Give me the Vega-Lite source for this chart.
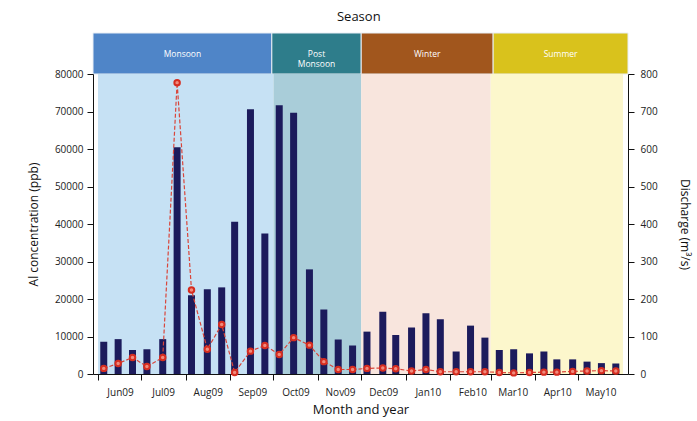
{
  "$schema": "https://vega.github.io/schema/vega-lite/v6.json",
  "padding": {"left": 27, "top": 10, "right": 2, "bottom": 2},
  "title": {"text": "Season", "fontSize": 13, "font": "Open Sans", "fontWeight": "normal", "offset": 9, "anchor": "middle", "frame": "bounds", "color": "#111"},
  "config": {
    "view": {"stroke": null},
    "font": "Open Sans",
    "axis": {"labelFont": "Open Sans", "titleFont": "Open Sans", "titleFontWeight": "normal", "grid": false, "domainColor": "#111", "tickColor": "#111", "labelColor": "#222", "titleColor": "#111"}
  },
  "datasets": {
    "seasons": [
      {"season": "Monsoon", "label": "Monsoon", "start": "2009-06-01T00:00:00", "end": "2009-10-01T00:00:00"},
      {"season": "Post Monsoon", "label": "Post\nMonsoon", "start": "2009-10-01T00:00:00", "end": "2009-12-01T00:00:00"},
      {"season": "Winter", "label": "Winter", "start": "2009-12-01T00:00:00", "end": "2010-03-01T00:00:00"},
      {"season": "Summer", "label": "Summer", "start": "2010-03-01T00:00:00", "end": "2010-06-01T00:00:00"}
    ],
    "samples": [
      {"date": "2009-06-05T00:00:00", "al": 8600, "discharge": 15},
      {"date": "2009-06-15T00:00:00", "al": 9300, "discharge": 28},
      {"date": "2009-06-25T00:00:00", "al": 6400, "discharge": 44},
      {"date": "2009-07-05T00:00:00", "al": 6600, "discharge": 20},
      {"date": "2009-07-16T00:00:00", "al": 9300, "discharge": 44},
      {"date": "2009-07-26T00:00:00", "al": 60500, "discharge": 777},
      {"date": "2009-08-05T00:00:00", "al": 21000, "discharge": 224},
      {"date": "2009-08-16T00:00:00", "al": 22600, "discharge": 66},
      {"date": "2009-08-26T00:00:00", "al": 23100, "discharge": 132},
      {"date": "2009-09-04T00:00:00", "al": 40600, "discharge": 4},
      {"date": "2009-09-15T00:00:00", "al": 70600, "discharge": 61},
      {"date": "2009-09-25T00:00:00", "al": 37500, "discharge": 76},
      {"date": "2009-10-05T00:00:00", "al": 71700, "discharge": 52},
      {"date": "2009-10-15T00:00:00", "al": 69700, "discharge": 97},
      {"date": "2009-10-26T00:00:00", "al": 27900, "discharge": 77},
      {"date": "2009-11-05T00:00:00", "al": 17200, "discharge": 33},
      {"date": "2009-11-15T00:00:00", "al": 9200, "discharge": 12},
      {"date": "2009-11-25T00:00:00", "al": 7600, "discharge": 12},
      {"date": "2009-12-05T00:00:00", "al": 11300, "discharge": 15},
      {"date": "2009-12-16T00:00:00", "al": 16600, "discharge": 16},
      {"date": "2009-12-25T00:00:00", "al": 10400, "discharge": 14},
      {"date": "2010-01-05T00:00:00", "al": 12400, "discharge": 8},
      {"date": "2010-01-15T00:00:00", "al": 16200, "discharge": 12},
      {"date": "2010-01-25T00:00:00", "al": 14600, "discharge": 6},
      {"date": "2010-02-05T00:00:00", "al": 6000, "discharge": 6},
      {"date": "2010-02-15T00:00:00", "al": 12900, "discharge": 6},
      {"date": "2010-02-25T00:00:00", "al": 9700, "discharge": 6},
      {"date": "2010-03-07T00:00:00", "al": 6400, "discharge": 4},
      {"date": "2010-03-17T00:00:00", "al": 6600, "discharge": 3},
      {"date": "2010-03-28T00:00:00", "al": 5500, "discharge": 4},
      {"date": "2010-04-07T00:00:00", "al": 6000, "discharge": 5},
      {"date": "2010-04-16T00:00:00", "al": 3900, "discharge": 5},
      {"date": "2010-04-27T00:00:00", "al": 3900, "discharge": 7},
      {"date": "2010-05-07T00:00:00", "al": 3300, "discharge": 8},
      {"date": "2010-05-17T00:00:00", "al": 2900, "discharge": 9},
      {"date": "2010-05-27T00:00:00", "al": 2800, "discharge": 8}
    ]
  },
  "spacing": 0,
  "bounds": "flush",
  "resolve": {"scale": {"color": "independent", "x": "independent"}},
  "vconcat": [
    {
      "width": 535,
      "height": 41,
      "data": {"name": "seasons"},
      "transform": [{"calculate": "(time(datum.start) + time(datum.end)) / 2", "as": "mid"}],
      "layer": [
        {
          "mark": {"type": "rect", "stroke": "#e8eef5", "strokeWidth": 1},
          "encoding": {
            "x": {"field": "start", "type": "temporal", "axis": null, "scale": {"domain": [{"year": 2009, "month": 6, "date": 1}, {"year": 2010, "month": 6, "date": 1}]}},
            "x2": {"field": "end"},
            "color": {"field": "season", "type": "nominal", "legend": null, "scale": {"domain": ["Monsoon", "Post Monsoon", "Winter", "Summer"], "range": ["#4f85c8", "#2e7d8b", "#a1561d", "#d9c21c"]}}
          }
        },
        {
          "mark": {"type": "text", "color": "white", "fontSize": 8.5, "lineBreak": "\n", "lineHeight": 10, "font": "Open Sans"},
          "encoding": {
            "x": {"field": "mid", "type": "temporal"},
            "text": {"field": "label"}
          }
        }
      ]
    },
    {
      "width": 535,
      "height": 300,
      "layer": [
        {
          "data": {"name": "seasons"},
          "mark": {"type": "rect"},
          "encoding": {
            "x": {"field": "start", "type": "temporal", "title": "Month and year",
              "scale": {"domain": [{"year": 2009, "month": 6, "date": 1}, {"year": 2010, "month": 6, "date": 1}]},
              "axis": {"format": "%b%y", "labelOffset": 22, "tickSize": 6, "labelPadding": 7, "titlePadding": 6, "labelFontSize": 10, "titleFontSize": 13, "labelFlush": false, "labelOverlap": false,
                "values": [
                  {"year": 2009, "month": 6, "date": 1}, {"year": 2009, "month": 7, "date": 1}, {"year": 2009, "month": 8, "date": 1},
                  {"year": 2009, "month": 9, "date": 1}, {"year": 2009, "month": 10, "date": 1}, {"year": 2009, "month": 11, "date": 1},
                  {"year": 2009, "month": 12, "date": 1}, {"year": 2010, "month": 1, "date": 1}, {"year": 2010, "month": 2, "date": 1},
                  {"year": 2010, "month": 3, "date": 1}, {"year": 2010, "month": 4, "date": 1}, {"year": 2010, "month": 5, "date": 1}
                ]}},
            "x2": {"field": "end"},
            "color": {"field": "season", "type": "nominal", "legend": null, "scale": {"domain": ["Monsoon", "Post Monsoon", "Winter", "Summer"], "range": ["#c6e1f4", "#a9cdd9", "#f8e5dd", "#fcf7cc"]}}
          }
        },
        {
          "data": {"name": "samples"},
          "mark": {"type": "bar", "width": 7, "color": "#1c1b5c"},
          "encoding": {
            "x": {"field": "date", "type": "temporal", "title": "Month and year"},
            "y": {"field": "al", "type": "quantitative", "title": "Al concentration (ppb)",
              "scale": {"domain": [0, 80000]},
              "axis": {"orient": "left", "values": [0, 10000, 20000, 30000, 40000, 50000, 60000, 70000, 80000], "format": "d", "tickSize": 6, "labelPadding": 4, "titlePadding": 14, "labelFontSize": 10, "titleFontSize": 12}}
          }
        },
        {
          "data": {"name": "samples"},
          "encoding": {
            "x": {"field": "date", "type": "temporal", "title": "Month and year"},
            "y": {"field": "discharge", "type": "quantitative", "title": "Discharge (m³/s)",
              "scale": {"domain": [0, 800]},
              "axis": {"orient": "right", "values": [0, 100, 200, 300, 400, 500, 600, 700, 800], "format": "d", "tickSize": 6, "labelPadding": 6, "titlePadding": 20, "labelFontSize": 10, "titleFontSize": 12}}
          },
          "layer": [
            {"mark": {"type": "line", "color": "#d9463b", "strokeDash": [4, 2], "strokeWidth": 1.2}},
            {"mark": {"type": "point", "filled": true, "fill": "#f08a7c", "stroke": "#d62d20", "strokeWidth": 2, "size": 30, "opacity": 1}}
          ]
        }
      ],
      "resolve": {"scale": {"y": "independent"}}
    }
  ]
}
